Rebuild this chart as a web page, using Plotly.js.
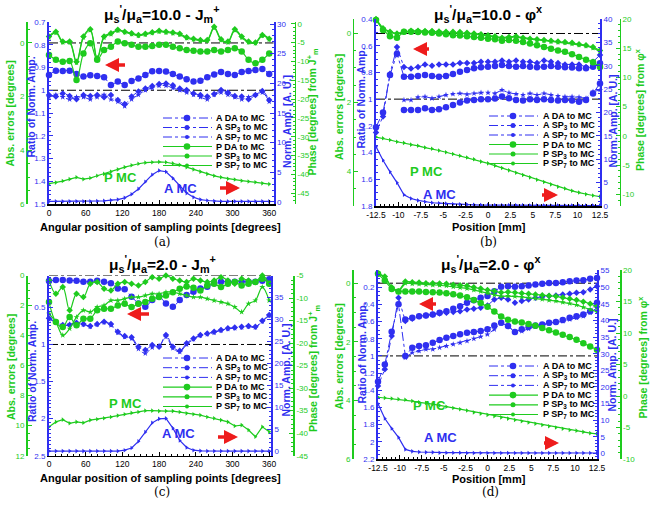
<!DOCTYPE html>
<html><head><meta charset="utf-8">
<script src="https://cdn.plot.ly/plotly-3.0.1.min.js"></script>
<style>html,body{margin:0;padding:0;background:#fff}#chart{width:656px;height:506px}</style>
</head><body><div id="chart"></div><script>
// ---------- data ----------
const angle = [0,11.25,22.5,33.75,45,56.25,67.5,78.75,90,101.25,112.5,123.75,135,146.25,157.5,168.75,180,191.25,202.5,213.75,225,236.25,247.5,258.75,270,281.25,292.5,303.75,315,326.25,337.5,348.75,360];
const position = [-12.5,-11.72,-10.94,-10.16,-9.38,-8.59,-7.81,-7.03,-6.25,-5.47,-4.69,-3.91,-3.13,-2.34,-1.56,-0.78,0,0.78,1.56,2.34,3.13,3.91,4.69,5.47,6.25,7.03,7.81,8.59,9.38,10.16,10.94,11.72,12.5];

const angleTickText = ['0','60','120','180','240','300','360'];
const positionTickText = ['-12.5','-10','-7.5','-5','-2.5','0','2.5','5','7.5','10','12.5'];

// panel (a)  mu_s'/mu_a = 10.0, J_m^+
const aA_DA  = [0.933,0.914,0.915,0.914,0.929,0.940,0.934,0.937,0.943,0.977,0.962,0.977,0.959,0.948,0.933,0.917,0.915,0.918,0.929,0.940,0.952,0.961,0.958,0.943,0.931,0.920,0.929,0.933,0.920,0.915,0.911,0.907,0.929];
const aA_SP3 = [1.021,1.028,1.014,1.025,1.040,1.021,1.025,1.021,1.031,1.021,1.043,1.060,1.028,1.006,0.992,0.981,0.973,0.970,0.978,0.992,0.999,1.014,1.021,1.028,1.017,0.999,1.010,1.025,1.028,1.040,1.021,1.003,1.043];
const aA_SP7 = [1.03,1.02,1.03,1.04,1.03,1.03,1.04,1.03,1.02,1.04,1.05,1.07,1.04,1.02,1.00,0.99,0.98,0.98,0.99,1.00,1.01,1.02,1.03,1.04,1.02,1.01,1.02,1.03,1.04,1.03,1.02,1.01,1.05];
const aP_DA  = [0.45,0.63,0.70,0.67,1.38,0.39,0.01,0.63,0.26,0.14,-0.05,0.01,0.07,0.14,0.14,0.11,0.07,0.07,0.14,0.20,0.26,0.29,0.32,0.32,0.26,0.32,0.26,0.20,0.32,0.63,0.76,0.63,0.39];
const aP_SP3 = [-0.24,-0.42,-0.05,-0.05,0.70,-0.24,-0.51,0.57,-0.24,-0.36,-0.49,-0.42,-0.36,-0.30,-0.34,-0.40,-0.45,-0.42,-0.39,-0.34,-0.21,-0.16,-0.11,-0.11,-0.60,-0.14,-0.05,-0.51,-0.24,-0.05,-0.02,-0.30,-0.16];
const aP_SP7 = [-0.20,-0.38,-0.02,-0.02,0.74,-0.20,-0.47,0.60,-0.20,-0.33,-0.46,-0.40,-0.33,-0.27,-0.31,-0.37,-0.42,-0.39,-0.36,-0.31,-0.18,-0.13,-0.08,-0.08,-0.56,-0.11,-0.02,-0.47,-0.20,-0.02,0.01,-0.27,-0.13];
const aA_MC  = [0.1,0.1,0.1,0.1,0.1,0.1,0.1,0.15,0.2,0.3,0.4,0.7,1.3,2.2,3.4,4.6,5.3,5.1,4.0,2.7,1.5,0.8,0.4,0.25,0.15,0.1,0.1,0.1,0.1,0.1,0.1,0.1,0.1];
const aP_MC  = [-42.5,-42.2,-41.8,-41.3,-40.8,-41.3,-41.0,-40.4,-39.9,-39.3,-38.7,-38.1,-37.6,-37.2,-36.9,-36.8,-36.7,-36.8,-37.1,-37.5,-38.1,-38.7,-39.3,-39.9,-40.4,-40.8,-41.2,-41.4,-41.7,-41.9,-42.1,-42.4,-42.6];

// panel (b)  mu_s'/mu_a = 10.0, phi^x
const bA_DA  = [null,null,null,null,1.081,1.081,1.081,1.069,1.081,1.076,1.061,1.044,1.026,1.011,1.006,1.001,1.001,0.996,0.981,0.994,1.006,1.011,1.001,1.006,1.001,1.006,1.011,1.006,1.011,1.019,1.006,0.957,0.882];
const bA_SP3 = [1.25,1.13,0.81,0.61,0.76,0.77,0.76,0.74,0.75,0.74,0.74,0.74,0.73,0.73,0.73,0.72,0.72,0.72,0.71,0.72,0.71,0.72,0.72,0.73,0.71,0.72,0.73,0.74,0.74,0.74,0.76,0.72,0.67];
const bA_SP7 = [null,null,null,null,1.006,1.006,0.986,0.981,0.994,0.981,0.969,0.962,0.957,0.964,0.957,0.952,0.952,0.957,0.932,0.952,0.962,0.969,0.957,0.969,0.957,0.969,0.977,0.981,0.981,0.986,0.994,0.944,0.932];
const bA_DA2 = [1.21,1.10,0.82,0.66,0.832,0.832,0.827,0.819,0.827,0.832,0.827,0.812,0.794,0.782,0.769,0.762,0.757,0.752,0.744,0.752,0.757,0.752,0.757,0.762,0.757,0.752,0.757,0.762,0.764,0.769,0.769,0.757,0.732];
const bP_DA  = [-0.39,-0.10,0.08,0.12,-0.05,-0.05,-0.04,-0.03,-0.02,0,0.02,0.05,0.06,0.08,0.10,0.12,0.15,0.17,0.21,0.19,0.21,0.25,0.29,0.34,0.39,0.44,0.49,0.53,0.60,0.68,0.76,0.83,0.97];
const bP_SP3 = [-0.42,-0.15,-0.05,0,-0.05,-0.08,-0.08,-0.07,-0.07,-0.06,-0.05,-0.05,-0.04,-0.02,0,0.02,0.05,0.08,0.12,0.10,0.08,0.12,0.15,0.17,0.19,0.21,0.23,0.25,0.27,0.31,0.34,0.39,0.49];
const bP_SP7 = [-0.40,-0.13,-0.03,0.02,-0.04,-0.07,-0.07,-0.06,-0.06,-0.05,-0.04,-0.03,-0.02,0,0.02,0.04,0.07,0.10,0.14,0.12,0.10,0.14,0.17,0.19,0.21,0.23,0.25,0.27,0.30,0.33,0.36,0.42,0.52];
const bA_MC  = [12.7,9.8,7.3,5.0,2.4,1.6,1.2,0.9,0.7,0.6,0.5,0.4,0.35,0.3,0.25,0.2,0.2,0.15,0.15,0.15,0.15,0.15,0.1,0.1,0.1,0.1,0.1,0.1,0.1,0.1,0.1,0.1,0.1];
const bP_MC  = [-0.2,-0.4,-0.7,-1.0,-1.2,-1.5,-1.7,-2.0,-2.2,-2.5,-2.8,-3.1,-3.4,-3.7,-4.0,-4.4,-4.7,-5.1,-5.5,-5.9,-6.3,-6.7,-7.1,-7.5,-7.9,-8.3,-8.7,-9.0,-9.4,-9.7,-10.0,-10.2,-10.4];

// panel (c)  mu_s'/mu_a = 2.0, J_m^+
const cA_DA  = [0.145,0.131,0.131,0.136,0.140,0.154,0.154,0.140,0.154,0.176,0.244,0.257,0.356,0.446,0.491,0.401,0.356,0.446,0.491,0.401,0.334,0.289,0.244,0.221,0.176,0.154,0.154,0.154,0.154,0.154,0.154,0.140,0.122];
const cA_SP3 = [0.648,0.693,0.738,0.738,0.707,0.725,0.752,0.725,0.693,0.725,0.828,0.887,0.904,1.030,1.075,1.008,1.030,0.873,1.030,1.084,0.985,0.918,0.873,0.851,0.828,0.806,0.783,0.770,0.761,0.752,0.761,0.680,0.603];
const cA_SP7 = [0.66,0.70,0.75,0.73,0.72,0.73,0.76,0.73,0.70,0.74,0.84,0.90,0.92,1.06,1.12,1.04,1.02,0.90,1.05,1.10,1.00,0.93,0.88,0.86,0.84,0.81,0.79,0.78,0.77,0.76,0.77,0.69,0.61];
const cP_DA  = [1.77,3.10,3.43,2.77,3.32,2.88,2.88,2.32,2.21,2.21,1.99,1.88,2.10,1.88,1.77,1.55,1.44,1.33,1.11,0.88,0.73,0.82,1.00,0.66,0.55,0.77,0.55,0.44,0.66,0.55,0.44,0.22,0.55];
const cP_SP3 = [0.33,1.22,0.77,2.32,1.22,1.44,0.55,0.44,0.88,1.00,0.55,0.44,0.55,0.66,0.44,0.11,0.22,0.00,0.22,0.33,0.44,0.22,0.33,0.44,0.33,0.11,0.33,0.55,0.22,0.33,0.44,0.00,0.55];
const cP_SP7 = [2.54,3.10,3.98,3.54,2.77,2.32,2.43,2.10,1.99,1.66,1.66,1.55,1.44,1.44,1.33,1.22,1.22,1.11,1.11,1.22,1.33,1.44,1.44,1.55,1.66,1.77,1.88,2.10,2.43,1.88,1.66,0.77,1.66];
const cA_MC  = [0.1,0.1,0.1,0.1,0.1,0.1,0.1,0.1,0.1,0.1,0.1,0.3,0.8,2.3,4.4,6.5,7.4,7.5,5.3,2.5,0.9,0.3,0.15,0.1,0.1,0.1,0.1,0.1,0.1,0.1,0.1,0.1,0.1];
const cP_MC  = [-38.6,-37.5,-37.0,-37.8,-37.5,-37.7,-37.1,-36.9,-36.7,-36.4,-36.1,-35.8,-35.5,-35.3,-35.0,-35.0,-35.1,-35.1,-35.1,-35.3,-35.6,-35.8,-36.0,-36.4,-36.7,-37.1,-37.5,-38.4,-38.2,-39.3,-40.8,-38.6,-39.7];

// panel (d)  mu_s'/mu_a = 2.0, phi^x
const dA_DA  = [null,null,null,null,0.575,0.556,0.537,0.529,0.517,0.498,0.479,0.451,0.421,0.382,0.351,0.324,0.304,0.246,0.196,0.188,0.196,0.188,0.181,0.169,0.161,0.150,0.150,0.142,0.130,0.123,0.119,0.103,0.092];
const dA_SP3 = [1.349,1.155,0.769,0.324,0.595,0.567,0.537,0.529,0.517,0.506,0.498,0.490,0.479,0.459,0.451,0.440,0.413,0.343,0.324,0.343,0.382,0.362,0.343,0.324,0.312,0.304,0.297,0.285,0.277,0.266,0.258,0.227,0.188];
const dA_SP7 = [null,null,null,null,1.020,0.962,0.943,0.923,0.923,0.904,0.885,0.865,0.846,0.827,0.800,0.776,0.749,0.691,0.622,0.645,0.730,0.711,0.684,0.660,0.645,0.622,0.614,0.595,0.575,0.556,0.537,0.498,0.440];
const dA_DA2 = [1.30,1.10,0.72,0.40,1.000,0.904,0.885,0.877,0.846,0.815,0.788,0.769,0.749,0.730,0.722,0.711,0.691,0.645,0.614,0.653,0.722,0.691,0.660,0.645,0.633,0.614,0.606,0.583,0.556,0.537,0.517,0.479,0.382];
const dP_DA  = [-0.32,-0.09,0.20,0.28,0.28,0.28,0.28,0.30,0.31,0.32,0.34,0.38,0.42,0.48,0.57,0.68,0.80,0.97,1.14,1.25,1.31,1.34,1.39,1.45,1.53,1.61,1.68,1.76,1.84,1.93,2.05,2.16,2.27];
const dP_SP3 = [-0.34,-0.23,0.14,0.28,-0.06,-0.03,-0.02,0,0,0.01,0.02,0.05,0.07,0.09,0.14,0.18,0.23,0.27,0.32,0.30,0.32,0.34,0.36,0.39,0.41,0.43,0.45,0.49,0.53,0.57,0.63,0.70,0.80];
const dP_SP7 = [-0.33,-0.21,0.16,0.30,0.00,0.02,0.03,0.05,0.06,0.07,0.09,0.12,0.15,0.18,0.23,0.28,0.34,0.40,0.45,0.44,0.45,0.47,0.50,0.52,0.55,0.58,0.61,0.65,0.69,0.74,0.82,0.90,0.97];
const dA_MC  = [14.9,10.5,7.5,4.8,1.2,0.6,0.4,0.3,0.3,0.2,0.2,0.2,0.2,0.1,0.1,0.1,0.1,0.1,0.1,0.1,0.1,0.1,0.1,0.1,0.1,0.1,0.1,0.1,0.1,0.1,0.1,0.1,0.1];
const dP_MC  = [-0.2,-0.3,-0.4,-0.5,-0.6,-0.8,-1.0,-1.1,-1.3,-1.5,-1.7,-1.9,-2.1,-2.3,-2.6,-2.8,-3.0,-3.2,-3.4,-3.6,-3.8,-4.0,-4.2,-4.4,-4.6,-4.8,-5.0,-5.2,-5.4,-5.5,-5.7,-5.9,-6.0];

// axis tick labels
const aRatioTicks = ['0.7','0.8','0.9','1','1.1','1.2','1.3','1.4','1.5'];
const bRatioTicks = ['0.4','0.6','0.8','1','1.2','1.4','1.6','1.8'];
const cRatioTicks = ['0.5','1','1.5','2','2.5'];
const dRatioTicks = ['0.2','0.4','0.6','0.8','1','1.2','1.4','1.6','1.8','2','2.2'];
const aErrTicks = ['0','2','4','6'];
const bErrTicks = ['0','2','4'];
const cErrTicks = ['0','2','4','6','8','10','12'];
const dErrTicks = ['0','2','4','6'];
const aAmpTicks = ['0','5','10','15','20','25','30'];
const bAmpTicks = ['0','5','10','15','20','25','30','35','40'];
const cAmpTicks = ['0','5','10','15','20','25','30','35','40'];
const dAmpTicks = ['0','5','10','15','20','25','30','35','40','45','50','55'];
const aPhaseTicks = ['0','-5','-10','-15','-20','-25','-30','-35','-40','-45'];
const bPhaseTicks = ['-10','-5','0','5','10','15','20'];
const cPhaseTicks = ['-5','-10','-15','-20','-25','-30','-35','-40','-45'];
const dPhaseTicks = ['-10','-5','0','5','10','15','20'];

const legendLabels = ['A DA to MC','A SP<sub>3</sub> to MC','A SP<sub>7</sub> to MC','P DA to MC','P SP<sub>3</sub> to MC','P SP<sub>7</sub> to MC'];

// ---------- style / layout ----------
const W = 656, H = 506;
const BLUE = '#2f2ff0', GREEN = '#1ecb1e', RED = '#ee1c1c';
const FONT = 'Liberation Sans, Arial, sans-serif';
const TICKSIZE = 8;
const px = v => v / W, py = v => 1 - v / H;

const panels = [
 {x: angle, xt: angleTickText, xtitle: 'Angular position of sampling points [degrees]', tag: '(a)',
  title: 'μ<sub>s</sub><sup>\'</sup>/μ<sub>a</sub>=10.0 - J<sub>m</sub><sup>+</sup>',
  ptitle: 'Phase [degrees] from J<sup>+</sup><sub>m</sub>',
  A: [aA_DA, aA_SP3, aA_SP7], A2: null, P: [aP_DA, aP_SP3, aP_SP7], AMC: aA_MC, PMC: aP_MC,
  rt: aRatioTicks, et: aErrTicks, at: aAmpTicks, pt: aPhaseTicks, spline: true,
  g: {x0: 49, x1: 273.5, y0: 22, y1: 204, gl: 26, gr: 294.5, xr: [0, 367], rr: [1.5, 0.7], er: [6, -0.78], ar: [-0.34, 30.34], pr: [-47.9, 0.5],
      rmin: 0.02, emin: 0.5, amin: 1, pmin: 1, xmin: 10,
      tx: 162, ty: 14, xtx: 160, xty: 227.5, tagy: 242,
      ytx: [9.5, 30.5, 287, 313], yty: [114, 107, 122, 112.5],
      leg: {y0: 118, dy: 9.5, lx0: 163, lx1: 212, mx: 187, tx: 214},
      pmc: [102, 168], amc: [162, 188], la: [105, 65, 23], ra: [240, 188, -23]}},
 {x: position, xt: positionTickText, xtitle: 'Position [mm]', tag: '(b)',
  title: 'μ<sub>s</sub><sup>\'</sup>/μ<sub>a</sub>=10.0 - φ<sup>x</sup>',
  ptitle: 'Phase [degrees] from φ<sup>x</sup>',
  A: [bA_DA, bA_SP3, bA_SP7], A2: bA_DA2, P: [bP_DA, bP_SP3, bP_SP7], AMC: bA_MC, PMC: bP_MC,
  rt: bRatioTicks, et: bErrTicks, at: bAmpTicks, pt: bPhaseTicks, spline: false,
  g: {x0: 376, x1: 600, y0: 19, y1: 206, gl: 352.7, gr: 619.5, xr: [-12.5, 12.5], rr: [1.8, 0.4], er: [5.0, -0.42], ar: [0, 40], pr: [-12, 20],
      rmin: 0.05, emin: 0.5, amin: 1, pmin: 1, xmin: 0.5,
      tx: 488, ty: 14, xtx: 489, xty: 227, tagy: 242,
      ytx: [338.5, 360.5, 612, 640], yty: [107.5, 98, 121.5, 110],
      leg: {y0: 116, dy: 9.5, lx0: 489, lx1: 538, mx: 513, tx: 541},
      pmc: [426, 162], amc: [458, 194], la: [413, 49, 19], ra: [558, 195, -19]}},
 {x: angle, xt: angleTickText, xtitle: 'Angular position of sampling points [degrees]', tag: '(c)',
  title: 'μ<sub>s</sub><sup>\'</sup>/μ<sub>a</sub>=2.0 - J<sub>m</sub><sup>+</sup>',
  ptitle: 'Phase [degrees] from J<sup>+</sup><sub>m</sub>',
  A: [cA_DA, cA_SP3, cA_SP7], A2: null, P: [cP_DA, cP_SP3, cP_SP7], AMC: cA_MC, PMC: cP_MC,
  rt: cRatioTicks, et: cErrTicks, at: cAmpTicks, pt: cPhaseTicks, spline: true,
  g: {x0: 49, x1: 271, y0: 275.5, y1: 455.7, gl: 26, gr: 293.3, xr: [0, 363], rr: [2.5, 0.07], er: [12, 0], ar: [-0.95, 39.9], pr: [-45, -5],
      rmin: 0.05, emin: 0.5, amin: 1, pmin: 1, xmin: 10,
      tx: 162, ty: 264, xtx: 160, xty: 477.5, tagy: 492,
      ytx: [10.5, 32, 285.5, 313.5], yty: [367.5, 372, 370, 368.5],
      leg: {y0: 358, dy: 9.7, lx0: 163, lx1: 212, mx: 187, tx: 214},
      pmc: [107, 413], amc: [160, 443], la: [127, 314, 25], ra: [238, 437, -23]}},
 {x: position, xt: positionTickText, xtitle: 'Position [mm]', tag: '(d)',
  title: 'μ<sub>s</sub><sup>\'</sup>/μ<sub>a</sub>=2.0 - φ<sup>x</sup>',
  ptitle: 'Phase [degrees] from φ<sup>x</sup>',
  A: [dA_DA, dA_SP3, dA_SP7], A2: dA_DA2, P: [dP_DA, dP_SP3, dP_SP7], AMC: dA_MC, PMC: dP_MC,
  rt: dRatioTicks, et: dErrTicks, at: dAmpTicks, pt: dPhaseTicks, spline: false,
  g: {x0: 378, x1: 597, y0: 270, y1: 459, gl: 352, gr: 620, xr: [-12.5, 12.5], rr: [2.2, 0.0], er: [6, -0.45], ar: [-1.7, 55.2], pr: [-10, 20],
      rmin: 0.05, emin: 0.5, amin: 1, pmin: 1, xmin: 0.5,
      tx: 490, ty: 264, xtx: 489, xty: 479, tagy: 492,
      ytx: [338, 361, 611.5, 642], yty: [356.5, 353.5, 365, 357.5],
      leg: {y0: 366, dy: 9.7, lx0: 489, lx1: 538, mx: 513, tx: 541},
      pmc: [429, 415], amc: [459, 447], la: [419, 304, 20], ra: [559, 443, -18]}}
];

const traces = [];
const layout = {width: W, height: H, margin: {l: 0, r: 0, t: 0, b: 0}, showlegend: false,
  paper_bgcolor: '#fff', plot_bgcolor: 'rgba(0,0,0,0)', font: {family: FONT, size: 10, color: '#000'},
  annotations: [], shapes: []};

const aMarks = [{sym: 'circle', size: 6.5}, {sym: 'diamond', size: 5}, {sym: 'star', size: 4.5}];
const pMarks = [{sym: 'circle', size: 6.5}, {sym: 'diamond', size: 5}, {sym: 'star', size: 4.5}];

function tickAxis(tt, color, extra) {
  return Object.assign({
    tickvals: tt.map(Number), ticktext: tt, tickmode: 'array',
    color: color, tickfont: {family: FONT, size: TICKSIZE, color: color},
    showline: true, linecolor: color, showgrid: false, zeroline: false,
    ticks: 'inside', ticklen: 4, tickwidth: 1, tickcolor: color, fixedrange: true
  }, extra);
}
function vtitle(x, y, text, color) {
  return {xref: 'paper', yref: 'paper', x: px(x), y: py(y), textangle: -90, showarrow: false,
    xanchor: 'center', yanchor: 'middle', text: '<b>' + text + '</b>', font: {family: FONT, size: 10.5, color: color}};
}

panels.forEach((p, k) => {
  const g = p.g;
  const xid = k ? 'x' + (k + 1) : 'x';
  const xkey = k ? 'xaxis' + (k + 1) : 'xaxis';
  const n = 4 * k + 1;
  const yid = i => 'y' + ((n + i) === 1 ? '' : (n + i));
  const ykey = i => 'yaxis' + ((n + i) === 1 ? '' : (n + i));
  const R = yid(0), E = yid(1), A = yid(2), P = yid(3);
  const ydom = [1 - g.y1 / H, 1 - g.y0 / H];

  layout[xkey] = tickAxis(p.xt, '#000', {
    domain: [g.x0 / W, g.x1 / W], anchor: R, range: g.xr, linewidth: 1.5,
    tickfont: {family: FONT, size: TICKSIZE + 0.5, color: '#000'},
    minor: {ticks: 'inside', ticklen: 2, dtick: g.xmin, tickcolor: '#000'}
  });
  layout[ykey(0)] = tickAxis(p.rt, BLUE, {
    domain: ydom, anchor: xid, side: 'left', range: g.rr, linewidth: 2,
    minor: {ticks: 'inside', ticklen: 2, dtick: g.rmin, tickcolor: BLUE}
  });
  layout[ykey(1)] = tickAxis(p.et, GREEN, {
    overlaying: R, anchor: 'free', position: g.gl / W, side: 'left', range: g.er, linewidth: 1.5,
    minor: {ticks: 'inside', ticklen: 2, dtick: g.emin, tickcolor: GREEN}
  });
  layout[ykey(2)] = tickAxis(p.at, BLUE, {
    overlaying: R, anchor: xid, side: 'right', range: g.ar, linewidth: 2,
    minor: {ticks: 'inside', ticklen: 2, dtick: g.amin, tickcolor: BLUE}
  });
  layout[ykey(3)] = tickAxis(p.pt, GREEN, {
    overlaying: R, anchor: 'free', position: g.gr / W, side: 'right', range: g.pr, linewidth: 1.5,
    minor: {ticks: 'inside', ticklen: 2, dtick: g.pmin, tickcolor: GREEN}
  });

  // axis titles
  layout.annotations.push(vtitle(g.ytx[0], g.yty[0], 'Abs. errors [degrees]', GREEN));
  layout.annotations.push(vtitle(g.ytx[1], g.yty[1], 'Ratio of Norm. Amp.', BLUE));
  layout.annotations.push(vtitle(g.ytx[2], g.yty[2], 'Norm. Amp. [A. U.]', BLUE));
  layout.annotations.push(vtitle(g.ytx[3], g.yty[3], p.ptitle, GREEN));
  layout.annotations.push({xref: 'paper', yref: 'paper', x: px(g.xtx), y: py(g.xty), showarrow: false,
    xanchor: 'center', yanchor: 'middle', text: '<b>' + p.xtitle + '</b>', font: {family: FONT, size: 11, color: '#000'}});

  const shape = p.spline ? 'spline' : 'linear';
  // amplitude ratios
  p.A.forEach((arr, i) => traces.push({type: 'scatter', mode: 'lines+markers', x: p.x, y: arr, xaxis: xid, yaxis: R,
    name: legendLabels[i], cliponaxis: false,
    line: {color: BLUE, width: 1, dash: 'dashdot', shape: shape},
    marker: {color: BLUE, size: aMarks[i].size, symbol: aMarks[i].sym, line: {width: 0}}}));
  if (p.A2) traces.push({type: 'scatter', mode: 'lines+markers', x: p.x, y: p.A2, xaxis: xid, yaxis: R,
    name: 'A DA to MC (2)', cliponaxis: false,
    line: {color: BLUE, width: 1, dash: 'dashdot'}, marker: {color: BLUE, size: 6.5, symbol: 'circle'}});
  // phase errors
  p.P.forEach((arr, i) => traces.push({type: 'scatter', mode: 'lines+markers', x: p.x, y: arr, xaxis: xid, yaxis: E,
    name: legendLabels[i + 3], cliponaxis: false,
    line: {color: GREEN, width: 1.2, shape: shape},
    marker: {color: GREEN, size: pMarks[i].size, symbol: pMarks[i].sym, line: {width: 0}}}));
  // MC references
  traces.push({type: 'scatter', mode: 'lines+markers', x: p.x, y: p.AMC, xaxis: xid, yaxis: A, name: 'A MC', cliponaxis: false,
    line: {color: BLUE, width: 1.2}, marker: {color: BLUE, size: 4, symbol: 'triangle-right'}});
  traces.push({type: 'scatter', mode: 'lines+markers', x: p.x, y: p.PMC, xaxis: xid, yaxis: P, name: 'P MC', cliponaxis: false,
    line: {color: GREEN, width: 1.2}, marker: {color: GREEN, size: 4, symbol: 'triangle-right'}});

  // reference dash-dot lines (ratio = 1, error = 0)
  layout.shapes.push({type: 'line', xref: xid + ' domain', x0: 0, x1: 1, yref: R, y0: 1, y1: 1, layer: 'below',
    line: {color: '#000', width: 1, dash: 'dashdot'}});
  layout.shapes.push({type: 'line', xref: xid + ' domain', x0: 0, x1: 1, yref: E, y0: 0, y1: 0, layer: 'below',
    line: {color: '#000', width: 1, dash: 'dashdot'}});

  // title, tag
  layout.annotations.push({xref: 'paper', yref: 'paper', x: px(g.tx), y: py(g.ty), showarrow: false,
    text: '<b>' + p.title + '</b>', font: {family: FONT, size: 15.5, color: '#000'}, xanchor: 'center', yanchor: 'middle'});
  layout.annotations.push({xref: 'paper', yref: 'paper', x: px(g.tx), y: py(g.tagy), showarrow: false,
    text: p.tag, font: {family: 'DejaVu Serif, Liberation Serif, serif', size: 12, color: '#000'}, xanchor: 'center', yanchor: 'middle'});
  // curve labels
  layout.annotations.push({xref: 'paper', yref: 'paper', x: px(g.pmc[0]), y: py(g.pmc[1]), showarrow: false,
    text: '<b>P MC</b>', font: {family: FONT, size: 13, color: GREEN}});
  layout.annotations.push({xref: 'paper', yref: 'paper', x: px(g.amc[0]), y: py(g.amc[1]), showarrow: false,
    text: '<b>A MC</b>', font: {family: FONT, size: 13, color: BLUE}});
  // red arrows
  [g.la, g.ra].forEach(a => layout.annotations.push({xref: 'paper', yref: 'paper', x: px(a[0]), y: py(a[1]),
    ax: a[2], ay: 0, showarrow: true, text: ' ', arrowhead: 2, arrowsize: 0.8, arrowwidth: 3.5, arrowcolor: RED}));

  // custom compact legend
  const L = g.leg;
  legendLabels.forEach((lab, i) => {
    const yy = py(L.y0 + i * L.dy);
    const isA = i < 3;
    const col = isA ? BLUE : GREEN;
    layout.shapes.push({type: 'line', xref: 'paper', yref: 'paper', x0: px(L.lx0), x1: px(L.lx1), y0: yy, y1: yy,
      line: {color: col, width: isA ? 1 : 1.2, dash: isA ? 'dashdot' : 'solid'}});
    const r = [3.3, 2.5, 2][i % 3];
    layout.shapes.push({type: 'circle', xref: 'paper', yref: 'paper', xsizemode: 'pixel', ysizemode: 'pixel',
      xanchor: px(L.mx), yanchor: yy, x0: -r, x1: r, y0: -r, y1: r, fillcolor: col, line: {width: 0}});
    layout.annotations.push({xref: 'paper', yref: 'paper', x: px(L.tx), y: yy, xanchor: 'left', yanchor: 'middle',
      showarrow: false, text: '<b>' + lab + '</b>', font: {family: FONT, size: 9, color: '#000'}});
  });
});

Plotly.newPlot('chart', traces, layout, {displayModeBar: false, staticPlot: true});
</script></body></html>
